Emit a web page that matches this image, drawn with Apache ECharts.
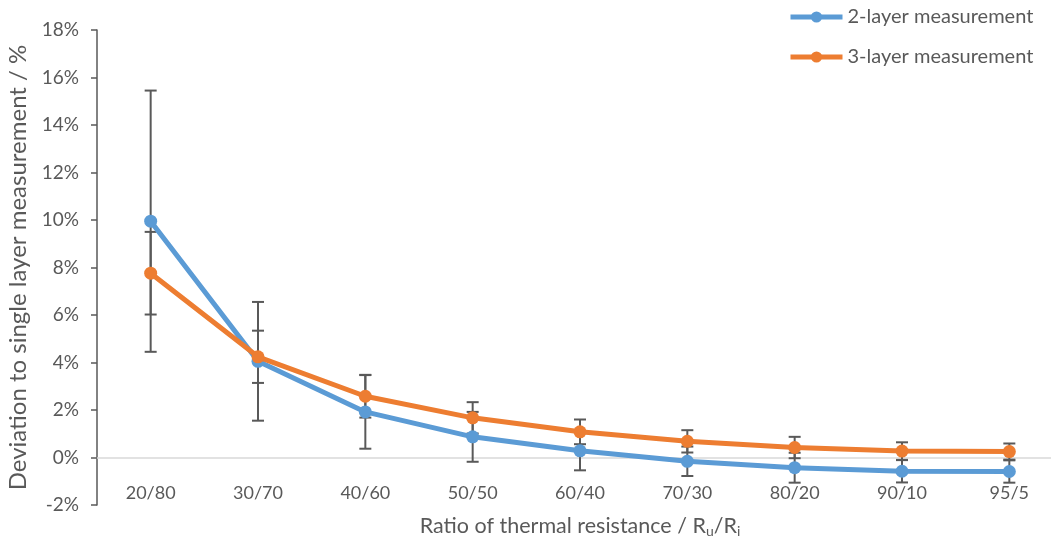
<!DOCTYPE html>
<html>
<head>
<meta charset="utf-8">
<script src="https://cdn.jsdelivr.net/npm/echarts@6/dist/echarts.min.js"></script>
<style>html,body{margin:0;padding:0;background:#fff;}#c{width:1051px;height:540px;}</style>
</head>
<body>
<div id="c"></div>
<script>
var categories = ['20/80','30/70','40/60','50/50','60/40','70/30','80/20','90/10','95/5'];
var twoLayer = [9.95, 4.05, 1.92, 0.87, 0.28, -0.16, -0.43, -0.58, -0.59];
var twoLayerErr = [5.5, 2.5, 1.55, 1.05, 0.82, 0.62, 0.63, 0.47, 0.47];
var threeLayer = [7.76, 4.24, 2.58, 1.67, 1.08, 0.68, 0.42, 0.27, 0.25];
var threeLayerErr = [1.74, 1.1, 0.9, 0.66, 0.52, 0.47, 0.45, 0.37, 0.34];
var yTicks = {min: -2, max: 18, interval: 2};

var FONT = 'Lato';
var TXT = '#595959';

function errData(vals, errs) {
  return vals.map(function (v, i) { return [i, v, errs[i]]; });
}
function renderErr(params, api) {
  var x = api.value(0), v = api.value(1), e = api.value(2);
  var top = api.coord([x, v + e]);
  var bot = api.coord([x, v - e]);
  var hw = 6;
  var st = {stroke: '#595959', lineWidth: 2};
  return {
    type: 'group',
    children: [
      {type: 'line', shape: {x1: top[0], y1: top[1], x2: bot[0], y2: bot[1]}, style: st},
      {type: 'line', shape: {x1: top[0] - hw, y1: top[1], x2: top[0] + hw, y2: top[1]}, style: st},
      {type: 'line', shape: {x1: bot[0] - hw, y1: bot[1], x2: bot[0] + hw, y2: bot[1]}, style: st}
    ]
  };
}

var chart = echarts.init(document.getElementById('c'), null, {renderer: 'canvas'});
chart.setOption({
  animation: false,
  backgroundColor: '#fff',
  textStyle: {fontFamily: FONT},
  grid: {left: 97, right: -12, top: 30, bottom: 35, containLabel: false, outerBoundsMode: 'none'},
  legend: {
    data: ['2-layer measurement', '3-layer measurement'],
    orient: 'vertical',
    left: 788,
    top: 7,
    padding: 0,
    itemWidth: 52,
    itemHeight: 14,
    itemGap: 20,
    lineStyle: {width: 5},
    textStyle: {color: TXT, fontSize: 20, fontFamily: FONT}
  },
  xAxis: {
    type: 'category',
    data: categories,
    boundaryGap: true,
    axisLine: {show: true, onZero: true, lineStyle: {color: '#d9d9d9', width: 1.5}},
    axisTick: {show: false},
    splitLine: {show: false},
    axisLabel: {color: TXT, fontSize: 18, fontFamily: FONT, margin: -21},
    name: '{a|Ratio of thermal resistance / R}{s|u}{a|/R}{s|i}',
    nameLocation: 'middle',
    nameGap: 9,
    nameTextStyle: {
      color: TXT,
      rich: {
        a: {fontSize: 21.5, color: TXT, fontFamily: FONT},
        s: {fontSize: 14, color: TXT, fontFamily: FONT, padding: [10, 0, 0, 0]}
      }
    }
  },
  yAxis: {
    type: 'value',
    min: yTicks.min,
    max: yTicks.max,
    interval: yTicks.interval,
    axisLine: {show: true, lineStyle: {color: '#595959', width: 1.5}},
    axisTick: {show: true, length: 6, lineStyle: {color: '#595959', width: 1.5}},
    splitLine: {show: false},
    axisLabel: {color: TXT, fontSize: 19, fontFamily: FONT, margin: 18, formatter: '{value}%'},
    name: 'Deviation to single layer measurement / %',
    nameLocation: 'middle',
    nameGap: 67,
    nameTextStyle: {color: TXT, fontSize: 24, fontFamily: FONT}
  },
  series: [
    {
      name: '2-layer measurement',
      type: 'line',
      data: twoLayer,
      z: 3,
      symbol: 'circle',
      symbolSize: 13,
      lineStyle: {color: '#5B9BD5', width: 5},
      itemStyle: {color: '#5B9BD5'}
    },
    {
      name: '3-layer measurement',
      type: 'line',
      data: threeLayer,
      z: 4,
      symbol: 'circle',
      symbolSize: 13,
      lineStyle: {color: '#ED7D31', width: 5},
      itemStyle: {color: '#ED7D31'}
    },
    {
      name: 'err2',
      type: 'custom',
      z: 1,
      data: errData(twoLayer, twoLayerErr),
      renderItem: renderErr,
      encode: {x: 0, y: 1}
    },
    {
      name: 'err3',
      type: 'custom',
      z: 1,
      data: errData(threeLayer, threeLayerErr),
      renderItem: renderErr,
      encode: {x: 0, y: 1}
    }
  ]
});
</script>
</body>
</html>
